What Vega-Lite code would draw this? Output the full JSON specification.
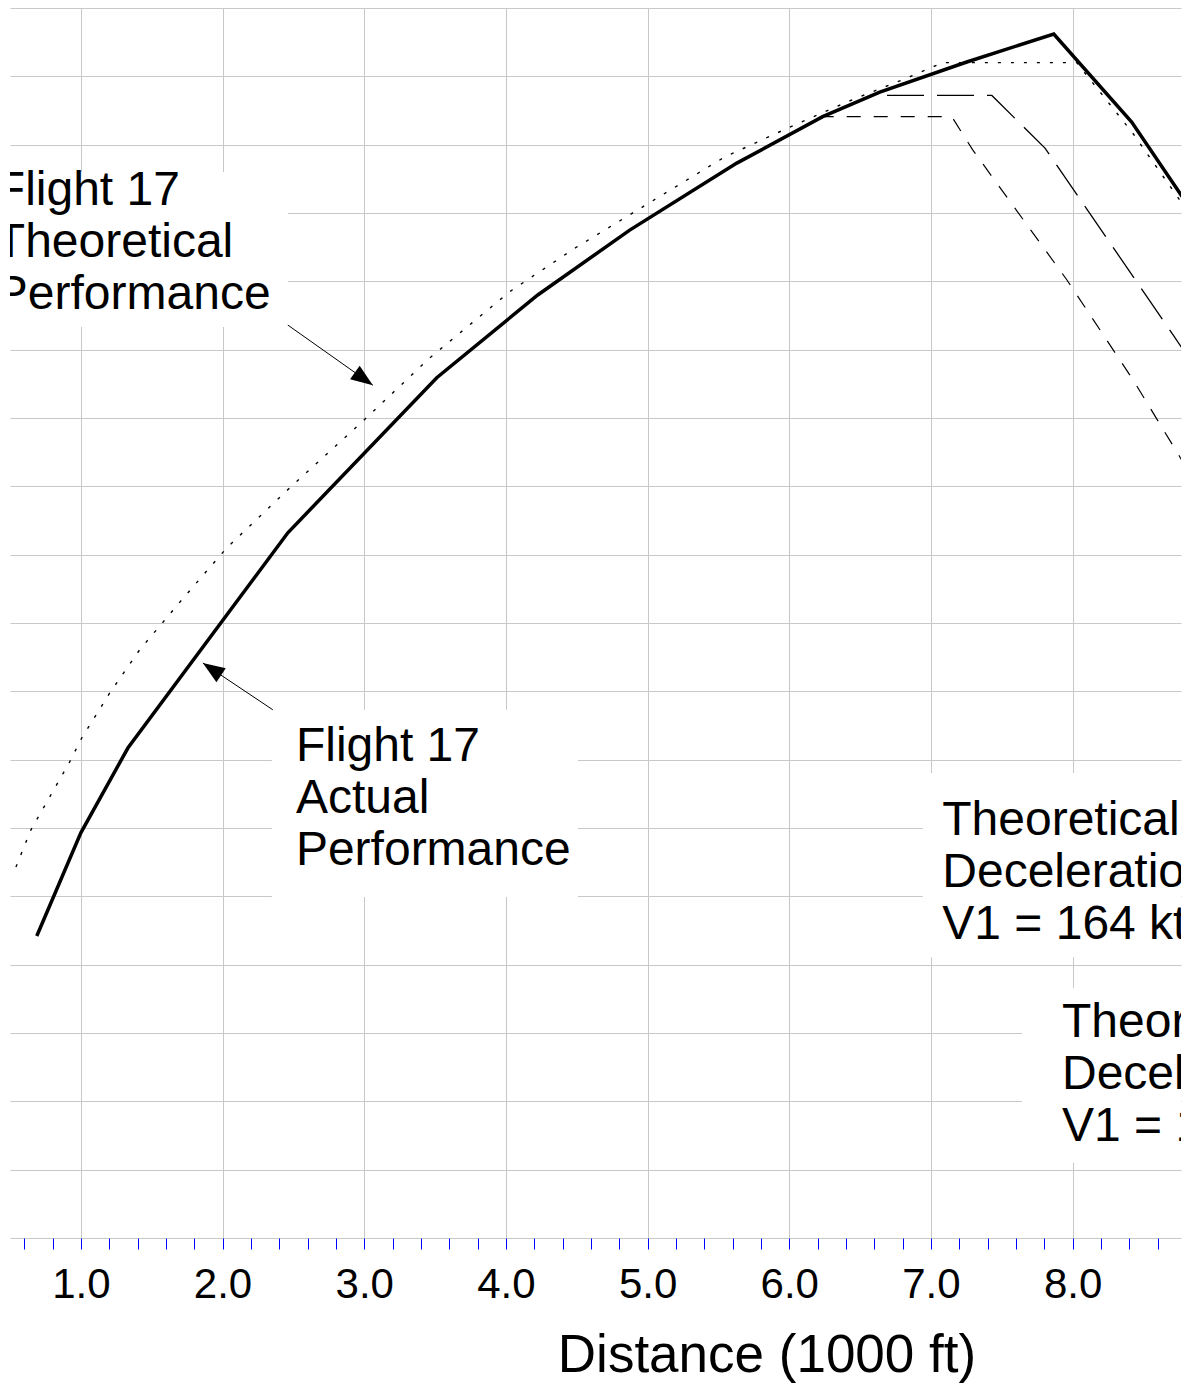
{
  "$schema": "https://vega.github.io/schema/vega-lite/v6.json",
  "width": 1171,
  "height": 1230,
  "autosize": {"type": "none"},
  "padding": {"left": 10, "top": 8, "right": 10, "bottom": 147},
  "background": "white",
  "config": {"view": {"stroke": null}, "font": "Liberation Sans"},
  "datasets": {
    "curves": [
      {"series": "actual", "x": 0.689, "y": 44.2},
      {"series": "actual", "x": 1.0, "y": 59.3},
      {"series": "actual", "x": 1.332, "y": 71.7},
      {"series": "actual", "x": 2.461, "y": 103.2},
      {"series": "actual", "x": 3.512, "y": 125.9},
      {"series": "actual", "x": 4.225, "y": 138.0},
      {"series": "actual", "x": 4.874, "y": 147.5},
      {"series": "actual", "x": 5.63, "y": 157.3},
      {"series": "actual", "x": 6.236, "y": 164.1},
      {"series": "actual", "x": 6.639, "y": 167.7},
      {"series": "actual", "x": 7.253, "y": 172.1},
      {"series": "actual", "x": 7.867, "y": 176.2},
      {"series": "actual", "x": 8.417, "y": 163.3},
      {"series": "actual", "x": 8.897, "y": 148.6},
      {"series": "theoretical", "x": 0.542, "y": 54.3},
      {"series": "theoretical", "x": 0.647, "y": 59.7},
      {"series": "theoretical", "x": 0.922, "y": 69.7},
      {"series": "theoretical", "x": 1.007, "y": 73.2},
      {"series": "theoretical", "x": 1.205, "y": 79.8},
      {"series": "theoretical", "x": 1.416, "y": 86.1},
      {"series": "theoretical", "x": 1.713, "y": 93.4},
      {"series": "theoretical", "x": 2.03, "y": 101.0},
      {"series": "theoretical", "x": 2.496, "y": 110.2},
      {"series": "theoretical", "x": 2.983, "y": 119.4},
      {"series": "theoretical", "x": 3.463, "y": 128.8},
      {"series": "theoretical", "x": 4.028, "y": 138.5},
      {"series": "theoretical", "x": 4.49, "y": 144.9},
      {"series": "theoretical", "x": 4.966, "y": 150.9},
      {"series": "theoretical", "x": 5.545, "y": 158.2},
      {"series": "theoretical", "x": 6.039, "y": 162.9},
      {"series": "theoretical", "x": 6.448, "y": 166.6},
      {"series": "theoretical", "x": 6.801, "y": 169.5},
      {"series": "theoretical", "x": 7.083, "y": 172.0},
      {"series": "theoretical", "x": 8.029, "y": 172.0},
      {"series": "theoretical", "x": 8.424, "y": 161.7},
      {"series": "theoretical", "x": 8.756, "y": 151.9},
      {"series": "theoretical", "x": 8.897, "y": 147.7},
      {"series": "decel167", "x": 6.69, "y": 167.2},
      {"series": "decel167", "x": 7.43, "y": 167.2},
      {"series": "decel167", "x": 7.805, "y": 159.5},
      {"series": "decel167", "x": 8.708, "y": 132.2},
      {"series": "decel167", "x": 8.897, "y": 126.4},
      {"series": "decel164", "x": 6.215, "y": 164.1},
      {"series": "decel164", "x": 7.147, "y": 164.1},
      {"series": "decel164", "x": 7.296, "y": 159.2},
      {"series": "decel164", "x": 7.96, "y": 140.2},
      {"series": "decel164", "x": 8.426, "y": 125.6},
      {"series": "decel164", "x": 8.757, "y": 114.3},
      {"series": "decel164", "x": 8.897, "y": 109.5}
    ],
    "boxes": [
      {"x": 0.3, "x2": 2.461, "y": 133.3, "y2": 156.0},
      {"x": 2.348, "x2": 4.508, "y": 49.9, "y2": 77.3},
      {"x": 6.943, "x2": 9.0, "y": 41.1, "y2": 68.05},
      {"x": 7.642, "x2": 9.0, "y": 11.0, "y2": 36.6}
    ],
    "notes": [
      {"label": "Flight 17\nTheoretical\nPerformance", "x": 0.4, "y": 151.2},
      {"label": "Flight 17\nActual\nPerformance", "x": 2.518, "y": 69.8},
      {"label": "Theoretical\nDeceleration\nV1 = 164 kt", "x": 7.08, "y": 59.0},
      {"label": "Theoretical\nDeceleration\nV1 = 167 kt", "x": 7.925, "y": 29.4}
    ],
    "arrows": [
      {"id": 1, "x": 2.461, "y": 133.6, "x2": 3.061, "y2": 124.8},
      {"id": 2, "x": 2.355, "y": 77.3, "x2": 1.861, "y2": 84.15}
    ]
  },
  "encoding": {
    "x": {
      "field": "x",
      "type": "quantitative",
      "scale": {"domain": [0.5, 8.765], "nice": false, "zero": false},
      "axis": {
        "values": [0.6, 0.8, 1, 1.2, 1.4, 1.6, 1.8, 2, 2.2, 2.4, 2.6, 2.8, 3, 3.2, 3.4, 3.6, 3.8, 4, 4.2, 4.4, 4.6, 4.8, 5, 5.2, 5.4, 5.6, 5.8, 6, 6.2, 6.4, 6.6, 6.8, 7, 7.2, 7.4, 7.6, 7.8, 8, 8.2, 8.4, 8.6],
        "grid": true,
        "gridColor": "#c8c8c8",
        "gridWidth": 1,
        "gridOpacity": {"condition": {"test": "abs(datum.value - round(datum.value)) < 0.001", "value": 1}, "value": 0},
        "domain": false,
        "ticks": true,
        "tickColor": "#0000ff",
        "tickSize": 11,
        "tickWidth": 1,
        "labelExpr": "abs(datum.value - round(datum.value)) < 0.001 ? format(datum.value, '.1f') : ''",
        "labelFont": "Liberation Sans",
        "labelFontSize": 42,
        "labelColor": "black",
        "labelPadding": 15,
        "labelFlush": false,
        "labelOverlap": false,
        "labelBound": false,
        "title": "Distance (1000 ft)",
        "titleFont": "Liberation Sans",
        "titleFontSize": 53,
        "titleFontWeight": "normal",
        "titleColor": "black",
        "titleX": 756.5,
        "titleY": 133,
        "titleBaseline": "alphabetic",
        "titleAlign": "center"
      }
    },
    "y": {
      "field": "y",
      "type": "quantitative",
      "scale": {"domain": [0, 180], "nice": false, "zero": false},
      "axis": {
        "values": [0, 10, 20, 30, 40, 50, 60, 70, 80, 90, 100, 110, 120, 130, 140, 150, 160, 170, 180],
        "grid": true,
        "gridColor": "#c8c8c8",
        "gridWidth": 1,
        "labels": false,
        "ticks": false,
        "domain": false,
        "title": null
      }
    }
  },
  "layer": [
    {
      "data": {"name": "boxes"},
      "mark": {"type": "rect", "fill": "white", "stroke": null, "clip": true},
      "encoding": {
        "x2": {"field": "x2"},
        "y2": {"field": "y2"}
      }
    },
    {
      "data": {"name": "curves"},
      "transform": [{"filter": "datum.series === 'theoretical'"}],
      "mark": {"type": "line", "color": "black", "strokeWidth": 1.4, "strokeDash": [3, 10], "clip": true},
      "encoding": {}
    },
    {
      "data": {"name": "curves"},
      "transform": [{"filter": "datum.series === 'decel167'"}],
      "mark": {"type": "line", "color": "black", "strokeWidth": 1.3, "strokeDash": [37, 13], "clip": true},
      "encoding": {}
    },
    {
      "data": {"name": "curves"},
      "transform": [{"filter": "datum.series === 'decel164'"}],
      "mark": {"type": "line", "color": "black", "strokeWidth": 1.2, "strokeDash": [14, 13], "clip": true},
      "encoding": {}
    },
    {
      "data": {"name": "curves"},
      "transform": [{"filter": "datum.series === 'actual'"}],
      "mark": {"type": "line", "color": "black", "strokeWidth": 3.5, "strokeJoin": "miter", "clip": true},
      "encoding": {}
    },
    {
      "data": {"name": "arrows"},
      "mark": {"type": "rule", "color": "black", "strokeWidth": 1},
      "encoding": {
        "x2": {"field": "x2"},
        "y2": {"field": "y2"}
      }
    },
    {
      "data": {"name": "arrows"},
      "transform": [{"filter": "datum.id === 1"}],
      "mark": {"type": "point", "shape": "M0,0L-1,-0.38L-1,0.38Z", "filled": true, "color": "black", "opacity": 1, "strokeWidth": 0, "size": 1936, "angle": 35.2},
      "encoding": {
        "x": {"field": "x2", "type": "quantitative"},
        "y": {"field": "y2", "type": "quantitative"}
      }
    },
    {
      "data": {"name": "arrows"},
      "transform": [{"filter": "datum.id === 2"}],
      "mark": {"type": "point", "shape": "M0,0L-1,-0.38L-1,0.38Z", "filled": true, "color": "black", "opacity": 1, "strokeWidth": 0, "size": 1936, "angle": 213.9},
      "encoding": {
        "x": {"field": "x2", "type": "quantitative"},
        "y": {"field": "y2", "type": "quantitative"}
      }
    },
    {
      "data": {"name": "notes"},
      "mark": {"type": "text", "align": "left", "baseline": "alphabetic", "font": "Liberation Sans", "fontSize": 48, "lineHeight": 52, "lineBreak": "\n", "color": "black", "clip": true},
      "encoding": {
        "text": {"field": "label", "type": "nominal"}
      }
    }
  ]
}
